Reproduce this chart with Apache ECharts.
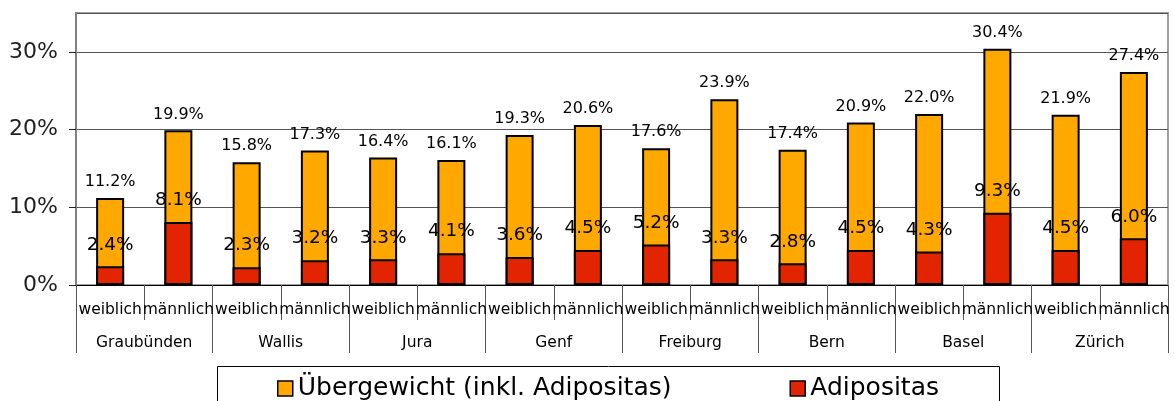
<!DOCTYPE html>
<html>
<head>
<meta charset="utf-8">
<script src="https://cdn.jsdelivr.net/npm/echarts@6/dist/echarts.min.js"></script>
<style>
  html, body { margin: 0; padding: 0; background: #fff; }
  #chart { width: 1175px; height: 401px; }
</style>
</head>
<body>
<div id="chart"></div>
<script>
const sexes = ['weiblich', 'männlich', 'weiblich', 'männlich', 'weiblich', 'männlich', 'weiblich', 'männlich',
    'weiblich', 'männlich', 'weiblich', 'männlich', 'weiblich', 'männlich', 'weiblich', 'männlich'];
const regions = ['Graubünden', 'Wallis', 'Jura', 'Genf', 'Freiburg', 'Bern', 'Basel', 'Zürich'];
const uebergewicht = [11.2, 19.9, 15.8, 17.3, 16.4, 16.1, 19.3, 20.6, 17.6, 23.9, 17.4, 20.9, 22.0, 30.4, 21.9, 27.4];
const adipositas = [2.4, 8.1, 2.3, 3.2, 3.3, 4.1, 3.6, 4.5, 5.2, 3.3, 2.8, 4.5, 4.3, 9.3, 4.5, 6.0];
const yTicks = [0, 10, 20, 30];

const font = 'DejaVu Sans';
const chart = echarts.init(document.getElementById('chart'));

const pct = p => p.value.toFixed(1) + '%';

chart.setOption({
    animation: false,
    textStyle: { fontFamily: font },
    grid: {
        left: 76, right: 7, top: 13, bottom: 116,
        show: true, borderColor: '#a0a0a0', borderWidth: 2
    },
    legend: {
        left: 272, top: 371,
        itemWidth: 15, itemHeight: 15, itemGap: 118,
        itemStyle: { borderColor: '#000', borderWidth: 1.5 },
        textStyle: { fontSize: 25, color: '#000', fontFamily: font },
        data: [
            { name: 'Übergewicht (inkl. Adipositas)', icon: 'rect' },
            { name: 'Adipositas', icon: 'rect' }
        ]
    },
    graphic: [{
        type: 'rect', left: 215, top: 364,
        shape: { width: 782, height: 40 },
        style: { fill: 'none', stroke: '#000', lineWidth: 1 },
        z: -1
    }],
    xAxis: [{
        type: 'category',
        data: sexes,
        position: 'bottom',
        axisLine: { lineStyle: { color: '#000', width: 1 } },
        axisTick: { show: true, alignWithLabel: false, length: 35, lineStyle: { color: '#555' } },
        axisLabel: { interval: 0, margin: 17, fontSize: 15.5, color: '#000' }
    }, {
        type: 'category',
        data: regions,
        position: 'bottom',
        axisLine: { show: false },
        axisTick: { show: true, length: 68, lineStyle: { color: '#555' } },
        axisLabel: { interval: 0, margin: 50, fontSize: 15.5, color: '#000' }
    }],
    yAxis: {
        type: 'value',
        min: 0, max: 35, interval: 10,
        axisLine: { show: true, lineStyle: { color: '#808080', width: 2 } },
        axisTick: { show: true, length: 7, lineStyle: { color: '#222' } },
        axisLabel: {
            fontSize: 22, color: '#222', margin: 18, showMaxLabel: false,
            formatter: v => (yTicks.indexOf(v) >= 0 ? v + '%' : '')
        },
        splitLine: { lineStyle: { color: '#555', width: 1 } }
    },
    series: [{
        name: 'Übergewicht (inkl. Adipositas)',
        type: 'bar',
        data: uebergewicht,
        barWidth: 28,
        barGap: '-100%',
        itemStyle: { color: '#FFA800', borderColor: '#000', borderWidth: 2 },
        label: {
            show: true, position: 'top', distance: 8,
            fontSize: 16, color: '#000', fontFamily: font,
            formatter: pct
        }
    }, {
        name: 'Adipositas',
        type: 'bar',
        data: adipositas,
        barWidth: 28,
        barGap: '-100%',
        itemStyle: { color: '#E32400', borderColor: '#000', borderWidth: 2 },
        label: {
            show: true, position: 'top', distance: 12,
            fontSize: 18.5, color: '#000', fontFamily: font,
            formatter: pct
        }
    }]
});
</script>
</body>
</html>
